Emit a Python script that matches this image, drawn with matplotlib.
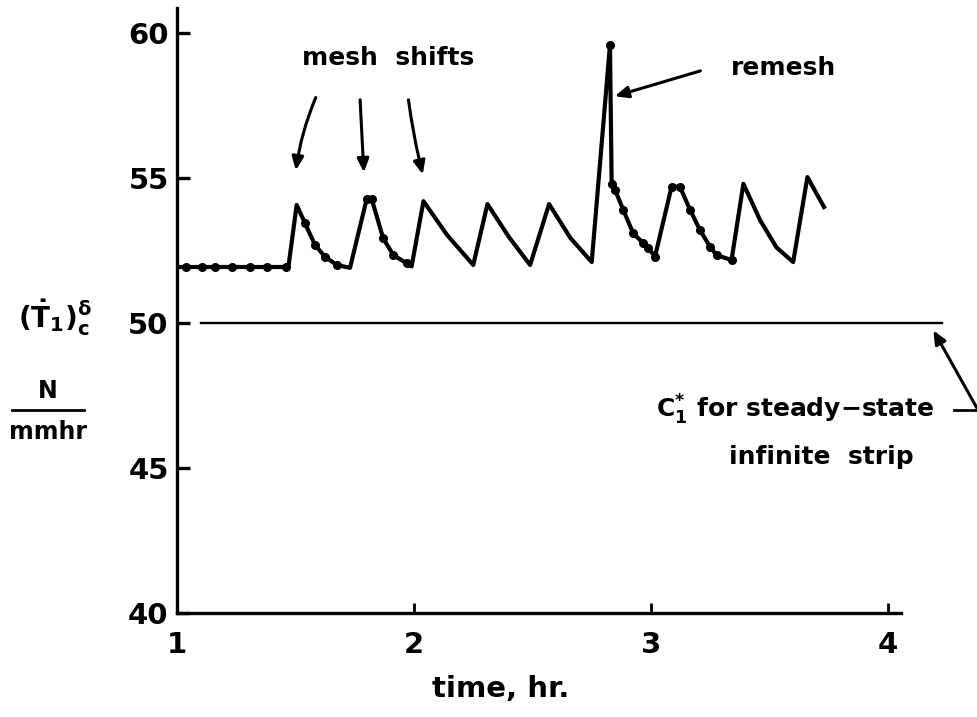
import matplotlib
matplotlib.use("Agg")
import matplotlib.pyplot as plt

# ---- data ----
time_hr = [1.0, 1.47, 1.505, 1.54, 1.582, 1.624, 1.674, 1.73, 1.80, 1.822, 1.87, 1.913,
           1.969, 1.99, 2.04, 2.14, 2.25, 2.31, 2.40, 2.49, 2.57, 2.66, 2.75, 2.827,
           2.834, 2.848, 2.883, 2.925, 2.968, 2.989, 3.017, 3.087, 3.122, 3.165, 3.207,
           3.249, 3.277, 3.34, 3.39, 3.46, 3.53, 3.60, 3.66, 3.73]
traction = [51.93, 51.93, 54.07, 53.44, 52.69, 52.29, 52.0, 51.9, 54.26, 54.26, 52.92,
            52.34, 52.06, 51.95, 54.2, 53.03, 52.0, 54.1, 52.97, 52.0, 54.1, 52.93, 52.1,
            59.59, 54.8, 54.6, 53.9, 53.09, 52.75, 52.58, 52.29, 54.70, 54.70, 53.9, 53.2,
            52.63, 52.34, 52.17, 54.8, 53.55, 52.6, 52.1, 55.03, 54.0]

dot_time = [1.04, 1.105, 1.16, 1.23, 1.31, 1.38, 1.46, 1.54, 1.582, 1.624, 1.674,
            1.80, 1.822, 1.87, 1.913, 1.969, 2.827, 2.834, 2.848, 2.883, 2.925, 2.968,
            2.989, 3.017, 3.087, 3.122, 3.165, 3.207, 3.249, 3.277, 3.34]
dot_traction = [51.93, 51.93, 51.93, 51.93, 51.93, 51.93, 51.93, 53.44, 52.69, 52.29,
                52.0, 54.26, 54.26, 52.92, 52.34, 52.06, 59.59, 54.8, 54.6, 53.9, 53.09,
                52.75, 52.58, 52.29, 54.70, 54.70, 53.9, 53.2, 52.63, 52.34, 52.17]

steady_value = 50.0
steady_span = [1.1, 4.23]

x_ticks = [1, 2, 3, 4]
x_ticklabels = ["1", "2", "3", "4"]
y_ticks = [40, 45, 50, 55, 60]
y_ticklabels = ["40", "45", "50", "55", "60"]

FONT = "DejaVu Sans"
plt.rcParams["font.family"] = [FONT]
plt.rcParams["font.weight"] = "bold"

fig = plt.figure(figsize=(9.78, 7.17), dpi=100)
ax = fig.add_axes([177/978, 104/717, 724/978, 605/717])
ax.set_xlim(1.0, 4.055)
ax.set_ylim(40.0, 60.86)

ax.plot(time_hr, traction, color="black", lw=3.0, solid_joinstyle="round", zorder=3)
ax.plot(dot_time, dot_traction, "o", color="black", ms=5.5, zorder=4)
ax.plot(steady_span, [steady_value, steady_value], color="black", lw=1.7, clip_on=False)

for s in ["top", "right"]:
    ax.spines[s].set_visible(False)
for s in ["left", "bottom"]:
    ax.spines[s].set_linewidth(2.4)

ax.set_xticks(x_ticks)
ax.set_xticklabels(x_ticklabels, fontsize=21, fontweight="bold")
ax.set_yticks(y_ticks)
ax.set_yticklabels(y_ticklabels, fontsize=21, fontweight="bold")
ax.tick_params(axis="y", direction="in", length=9, width=2.4, pad=6)
ax.tick_params(axis="x", direction="in", length=7, width=2.0, pad=13)
ax.set_xlabel("time, hr.", fontsize=21, fontweight="bold", va="top")
ax.xaxis.set_label_coords((501 - 177) / 724, -(675 - 613) / 605)

# y label pieces
fig.text(55/978, 1 - 318/717, r"$(\dot{\mathbf{T}}_{\mathbf{1}})_{\mathbf{c}}^{\mathbf{\delta}}$",
         fontsize=20, ha="center", va="center")
fig.text(48/978, 1 - 391/717, "N", fontsize=17, ha="center", va="center", fontweight="bold")
fig.add_artist(plt.Line2D([12/978, 84/978], [1 - 410/717, 1 - 410/717], color="black", lw=2))
fig.text(48/978, 1 - 432/717, "mmhr", fontsize=17, ha="center", va="center", fontweight="bold")

# annotations
ax.text(1.89, 59.14, "mesh  shifts", fontsize=18, ha="center", va="center", fontweight="bold")
arrow_kw = dict(arrowstyle="-|>,head_length=0.8,head_width=0.35", color="black", lw=2.2)
ax.annotate("", xy=(1.50, 55.17), xytext=(1.59, 57.86),
            arrowprops=dict(connectionstyle="arc3,rad=0.07", **arrow_kw))
ax.annotate("", xy=(1.789, 55.1), xytext=(1.772, 57.79),
            arrowprops=dict(connectionstyle="arc3,rad=0.0", **arrow_kw))
ax.annotate("", xy=(2.04, 55.03), xytext=(1.975, 57.79),
            arrowprops=dict(connectionstyle="arc3,rad=0.03", **arrow_kw))

ax.text(3.56, 58.79, "remesh", fontsize=18, ha="center", va="center", fontweight="bold")
ax.annotate("", xy=(2.836, 57.79), xytext=(3.22, 58.72),
            arrowprops=dict(connectionstyle="arc3,rad=0.0", **arrow_kw))

ax.text(3.61, 47.0, r"C$_\mathbf{1}^{\mathbf{*}}$ for steady$-$state",
        fontsize=18, ha="center", va="center", fontweight="bold")
ax.text(3.72, 45.38, "infinite  strip", fontsize=18, ha="center", va="center",
        fontweight="bold")
ax.plot([4.28, 4.38], [47.0, 47.0], color="black", lw=2.0, clip_on=False)
ax.annotate("", xy=(4.186, 49.83), xytext=(4.38, 47.0), annotation_clip=False,
            arrowprops=dict(connectionstyle="arc3,rad=0.0", **arrow_kw))

fig.savefig("out.png", dpi=100)
